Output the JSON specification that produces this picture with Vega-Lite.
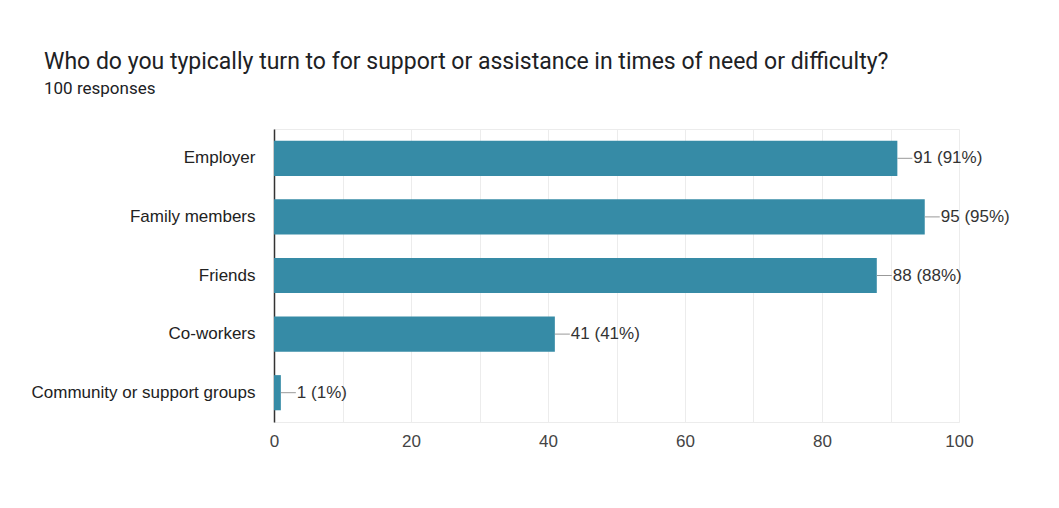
{
  "$schema": "https://vega.github.io/schema/vega-lite/v6.json",
  "width": 685,
  "height": 293,
  "autosize": {"type": "none"},
  "padding": {"left": 274, "top": 129, "right": 100, "bottom": 86},
  "background": "white",
  "title": {
    "text": "Who do you typically turn to for support or assistance in times of need or difficulty?",
    "subtitle": "100 responses",
    "anchor": "start",
    "frame": "group",
    "dx": -230,
    "offset": 32,
    "font": "Roboto",
    "fontSize": 23,
    "fontWeight": "normal",
    "color": "#202124",
    "subtitleFont": "Roboto",
    "subtitleFontSize": 17,
    "subtitleColor": "#202124",
    "subtitlePadding": 7
  },
  "data": {
    "values": [
      {"option": "Employer", "count": 91, "label": "91 (91%)"},
      {"option": "Family members", "count": 95, "label": "95 (95%)"},
      {"option": "Friends", "count": 88, "label": "88 (88%)"},
      {"option": "Co-workers", "count": 41, "label": "41 (41%)"},
      {"option": "Community or support groups", "count": 1, "label": "1 (1%)"}
    ]
  },
  "encoding": {
    "y": {
      "field": "option",
      "type": "nominal",
      "sort": null,
      "scale": {"paddingInner": 0.4, "paddingOuter": 0.2},
      "axis": {
        "title": null,
        "ticks": false,
        "tickSize": 0,
        "labelPadding": 19,
        "labelLimit": 400,
        "labelFont": "Liberation Sans",
        "labelFontSize": 17,
        "labelColor": "#222222",
        "domainColor": "#333333",
        "domainWidth": 1.5,
        "grid": false
      }
    }
  },
  "layer": [
    {
      "mark": {"type": "bar", "color": "#368ba6"},
      "encoding": {
        "x": {
          "field": "count",
          "type": "quantitative",
          "scale": {"domain": [0, 100], "nice": false},
          "axis": {
            "title": null,
            "values": [0, 10, 20, 30, 40, 50, 60, 70, 80, 90, 100],
            "labelExpr": "datum.value % 20 == 0 ? datum.label : ''",
            "labelFlush": false,
            "labelOverlap": false,
            "domain": false,
            "ticks": false,
            "tickSize": 0,
            "labelPadding": 11,
            "labelFont": "Liberation Sans",
            "labelFontSize": 17,
            "labelColor": "#444444",
            "gridColor": "#ececec",
            "gridWidth": 1
          }
        }
      }
    },
    {
      "mark": {"type": "rule", "color": "#999999", "strokeWidth": 1, "x2Offset": 15},
      "encoding": {
        "x": {"field": "count", "type": "quantitative"},
        "x2": {"field": "count"}
      }
    },
    {
      "mark": {"type": "text", "align": "left", "baseline": "middle", "dx": 16, "font": "Liberation Sans", "fontSize": 17, "color": "#333333"},
      "encoding": {
        "x": {"field": "count", "type": "quantitative"},
        "text": {"field": "label"}
      }
    }
  ],
  "config": {
    "view": {"stroke": "#ececec", "strokeWidth": 1}
  }
}
